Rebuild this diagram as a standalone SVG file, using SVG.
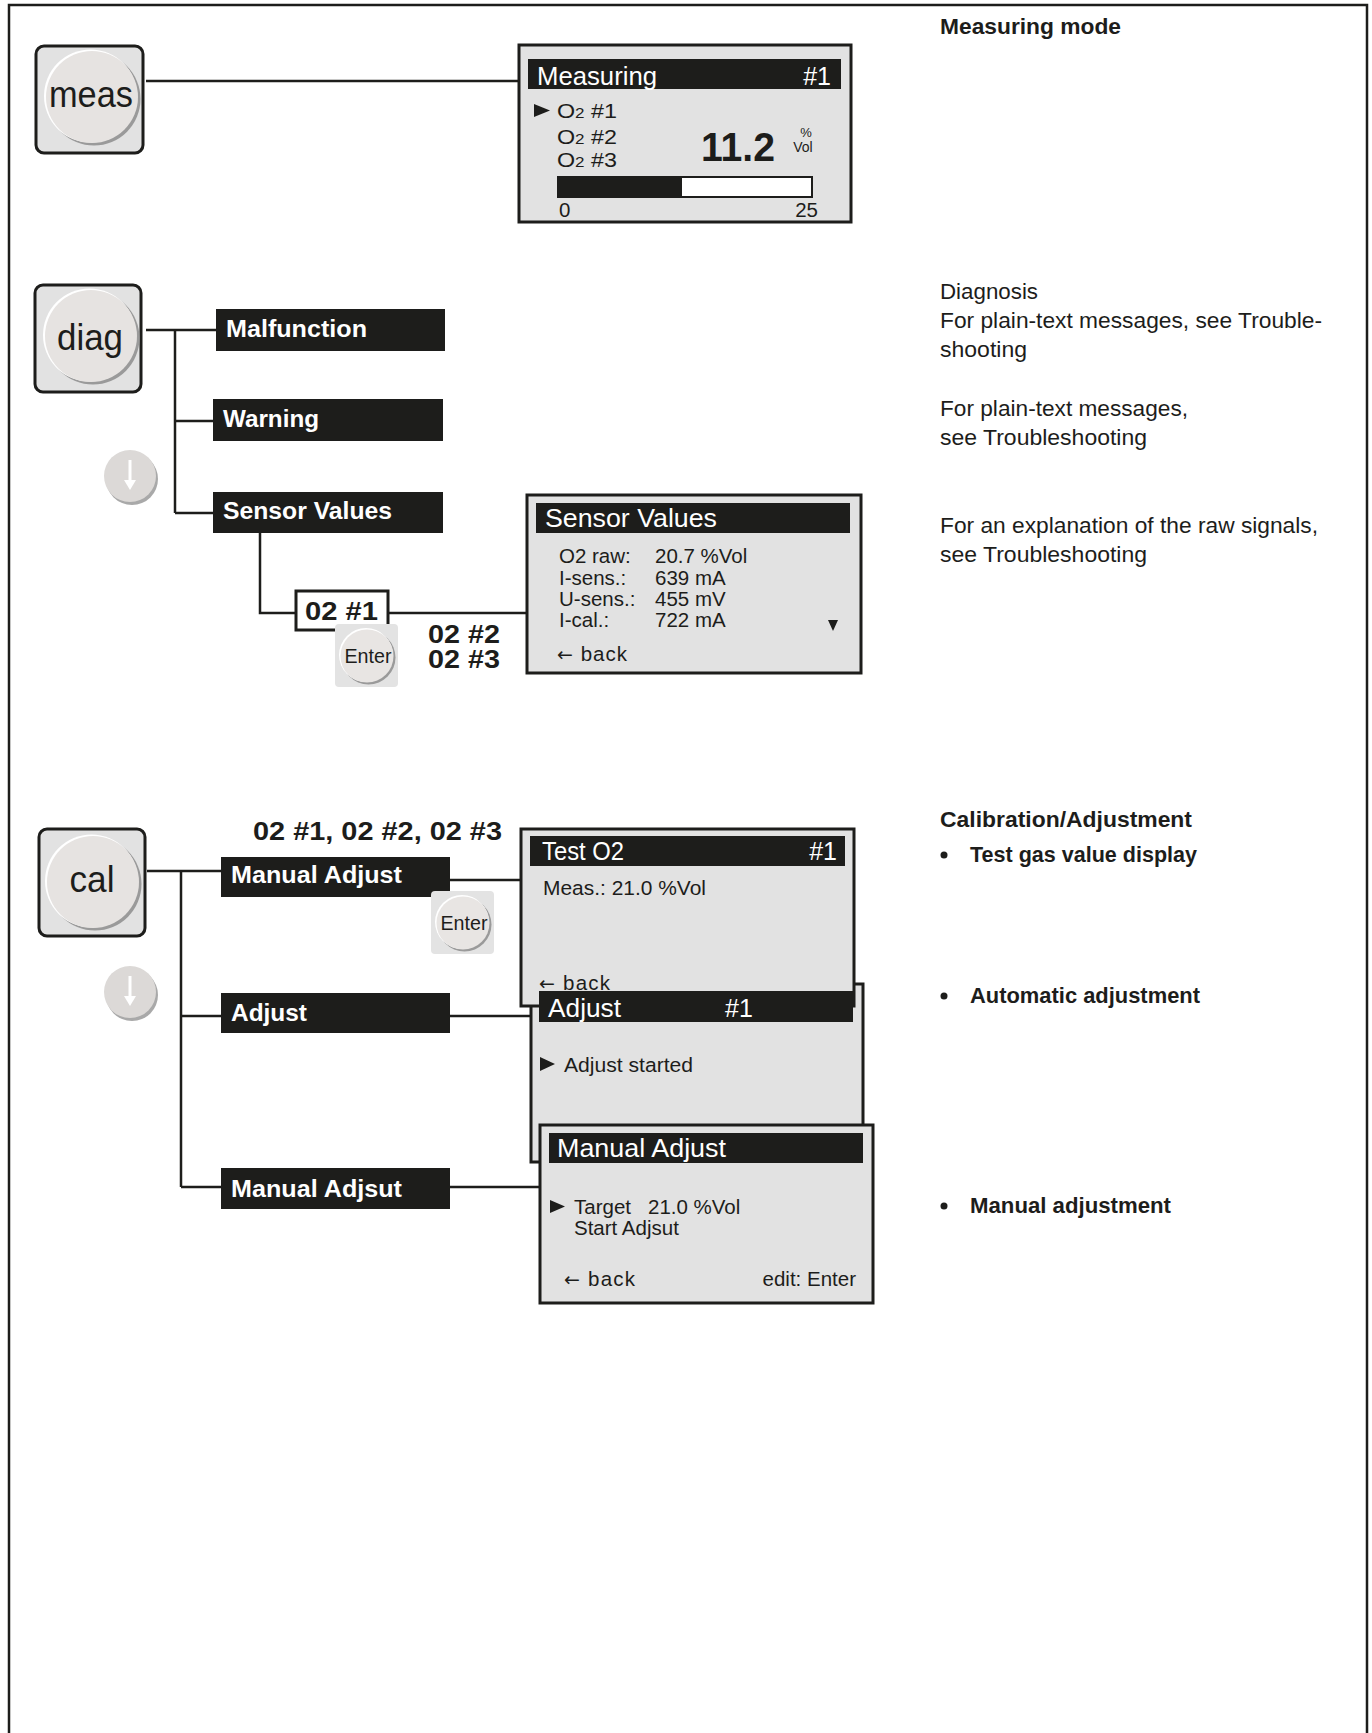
<svg xmlns="http://www.w3.org/2000/svg" xmlns:xlink="http://www.w3.org/1999/xlink" width="1372" height="1733" viewBox="0 0 1372 1733">
<style>
.frame{fill:none;stroke:#1d1d1b;stroke-width:2.5}
.conn{fill:none;stroke:#1d1d1b;stroke-width:2.5}
.keybg{fill:#e2e2e2;stroke:#1d1d1b;stroke-width:3}
.screen{fill:#e2e2e2;stroke:#1d1d1b;stroke-width:3}
.hdr{fill:#1d1d1b}
.menu{fill:#1d1d1b}
.sans{font-family:"Liberation Sans",Arial,sans-serif}
.hdrt{font-family:"Liberation Sans",Arial,sans-serif;font-size:25px;fill:#ffffff}
.scr{font-family:"Liberation Sans",Arial,sans-serif;font-size:20.5px;fill:#1d1d1b}
.arr{font-family:"DejaVu Sans",sans-serif;font-size:19px}
.menut{font-family:"Liberation Sans",Arial,sans-serif;font-size:24px;font-weight:bold;fill:#ffffff}
.bold{font-family:"Liberation Sans",Arial,sans-serif;font-weight:bold;fill:#1d1d1b}
.note{font-family:"Liberation Sans",Arial,sans-serif;font-size:22px;fill:#1d1d1b}
.noteb{font-family:"Liberation Sans",Arial,sans-serif;font-size:22px;font-weight:bold;fill:#1d1d1b}
.keyt{font-family:"Liberation Sans",Arial,sans-serif;font-size:37px;fill:#1d1d1b}
.entt{font-family:"Liberation Sans",Arial,sans-serif;font-size:20px;fill:#1d1d1b}
</style>
<defs>
<g id="bigknob">
<circle cx="2" cy="2" r="46.5" fill="#9a9a9a"/>
<circle cx="-1.5" cy="-1" r="46.5" fill="#ffffff"/>
<circle r="46" fill="#e6e3e1"/>
</g>
<g id="downknob">
<circle cx="2" cy="3" r="26" fill="#a9a9a9"/>
<circle r="26" fill="#dcd9d7"/>
<line x1="0" y1="-16" x2="0" y2="6" stroke="#ffffff" stroke-width="3"/>
<polygon points="-6,4 6,4 0,14" fill="#ffffff"/>
</g>
<g id="enterknob">
<rect x="-32" y="-32" width="63" height="63" rx="4" fill="#e3e3e3"/>
<circle cx="1.5" cy="1.5" r="27" fill="#9a9a9a"/>
<circle cx="-1" cy="-1" r="27" fill="#ffffff"/>
<circle r="26.5" fill="#e8e5e3"/>
</g>
</defs>

<rect x="0" y="0" width="1372" height="1733" fill="#ffffff"/>
<path class="frame" d="M 9 1733 V 5 H 1367 V 1733"/>

<g id="connectors">
<line class="conn" x1="146" y1="81" x2="518" y2="81"/>
<line class="conn" x1="146" y1="330" x2="216" y2="330"/>
<line class="conn" x1="175" y1="330" x2="175" y2="513"/>
<line class="conn" x1="175" y1="421" x2="213" y2="421"/>
<line class="conn" x1="175" y1="513" x2="213" y2="513"/>
<polyline class="conn" points="260,533 260,613 296,613"/>
<line class="conn" x1="388" y1="613" x2="527" y2="613"/>
<line class="conn" x1="147" y1="871" x2="221" y2="871"/>
<line class="conn" x1="181" y1="871" x2="181" y2="1187"/>
<line class="conn" x1="181" y1="1016" x2="221" y2="1016"/>
<line class="conn" x1="181" y1="1187" x2="221" y2="1187"/>
<line class="conn" x1="450" y1="880" x2="521" y2="880"/>
<line class="conn" x1="450" y1="1016" x2="530" y2="1016"/>
<line class="conn" x1="450" y1="1187" x2="540" y2="1187"/>
</g>

<g id="key-meas">
<rect class="keybg" x="36" y="46" width="107" height="107" rx="8"/>
<use xlink:href="#bigknob" x="92" y="97"/>
<text class="keyt" x="91" y="107" text-anchor="middle" textLength="84" lengthAdjust="spacingAndGlyphs">meas</text>
</g>

<g id="screen-measuring">
<rect class="screen" x="519" y="45" width="332" height="177"/>
<rect class="hdr" x="528" y="59" width="313" height="30"/>
<text class="hdrt" x="537" y="85" textLength="120" lengthAdjust="spacingAndGlyphs">Measuring</text>
<text class="hdrt" x="831" y="85" text-anchor="end">#1</text>
<polygon points="534,104 550,110.5 534,117" fill="#1d1d1b"/>
<text class="scr" x="557" y="118" font-size="23" textLength="60" lengthAdjust="spacingAndGlyphs">O<tspan font-size="15">2</tspan> #1</text>
<text class="scr" x="557" y="144" font-size="23" textLength="60" lengthAdjust="spacingAndGlyphs">O<tspan font-size="15">2</tspan> #2</text>
<text class="scr" x="557" y="167" font-size="23" textLength="60" lengthAdjust="spacingAndGlyphs">O<tspan font-size="15">2</tspan> #3</text>
<text class="bold" x="701" y="161" font-size="40" textLength="74" lengthAdjust="spacingAndGlyphs">11.2</text>
<text class="sans" x="806" y="137" font-size="13" text-anchor="middle" fill="#1d1d1b">%</text>
<text class="sans" x="803" y="152" font-size="14" text-anchor="middle" fill="#1d1d1b">Vol</text>
<rect x="558" y="177" width="254" height="20" fill="#ffffff" stroke="#1d1d1b" stroke-width="2"/>
<rect x="558" y="177" width="124" height="20" fill="#1d1d1b"/>
<text class="scr" x="559" y="217">0</text>
<text class="scr" x="818" y="217" text-anchor="end">25</text>
</g>

<g id="key-diag">
<rect class="keybg" x="35" y="285" width="106" height="107" rx="8"/>
<use xlink:href="#bigknob" x="91" y="336"/>
<text class="keyt" x="90" y="350" text-anchor="middle" textLength="66" lengthAdjust="spacingAndGlyphs">diag</text>
</g>

<g id="menu-malfunction">
<rect class="menu" x="216" y="309" width="229" height="42"/>
<text class="menut" x="226" y="337" textLength="141" lengthAdjust="spacingAndGlyphs">Malfunction</text>
</g>
<g id="menu-warning">
<rect class="menu" x="213" y="399" width="230" height="42"/>
<text class="menut" x="223" y="427" textLength="96" lengthAdjust="spacingAndGlyphs">Warning</text>
</g>
<g id="key-down-1">
<use xlink:href="#downknob" x="130" y="476"/>
</g>
<g id="menu-sensor-values">
<rect class="menu" x="213" y="492" width="230" height="41"/>
<text class="menut" x="223" y="519" textLength="169" lengthAdjust="spacingAndGlyphs">Sensor Values</text>
</g>

<g id="sel-o2-1">
<rect x="296" y="591" width="92" height="39" fill="#ffffff" stroke="#1d1d1b" stroke-width="3"/>
<text class="bold" x="305" y="620" font-size="25" textLength="73" lengthAdjust="spacingAndGlyphs">02 #1</text>
</g>
<g id="key-enter-1">
<use xlink:href="#enterknob" x="367" y="656"/>
<text class="entt" x="368" y="663" text-anchor="middle" textLength="47" lengthAdjust="spacingAndGlyphs">Enter</text>
</g>
<g id="sel-o2-23">
<text class="bold" x="428" y="643" font-size="25" textLength="72" lengthAdjust="spacingAndGlyphs">02 #2</text>
<text class="bold" x="428" y="668" font-size="25" textLength="72" lengthAdjust="spacingAndGlyphs">02 #3</text>
</g>

<g id="screen-sensor-values">
<rect class="screen" x="527" y="495" width="334" height="178"/>
<rect class="hdr" x="536" y="503" width="314" height="30"/>
<text class="hdrt" x="545" y="527" font-size="26" textLength="172" lengthAdjust="spacingAndGlyphs">Sensor Values</text>
<text class="scr" x="559" y="563">O2 raw:</text>
<text class="scr" x="655" y="563">20.7 %Vol</text>
<text class="scr" x="559" y="585">I-sens.:</text>
<text class="scr" x="655" y="585">639 mA</text>
<text class="scr" x="559" y="606">U-sens.:</text>
<text class="scr" x="655" y="606">455 mV</text>
<text class="scr" x="559" y="627">I-cal.:</text>
<text class="scr" x="655" y="627">722 mA</text>
<polygon points="828,620 838,620 833,631" fill="#1d1d1b"/>
<text class="scr" x="557" y="661" textLength="70" lengthAdjust="spacing"><tspan class="arr">←</tspan> back</text>
</g>

<g id="key-cal">
<rect class="keybg" x="39" y="829" width="106" height="107" rx="8"/>
<use xlink:href="#bigknob" x="93" y="882"/>
<text class="keyt" x="92" y="892" text-anchor="middle" textLength="45" lengthAdjust="spacingAndGlyphs">cal</text>
</g>

<g id="label-o2-all">
<text class="bold" x="253" y="840" font-size="25" textLength="249" lengthAdjust="spacingAndGlyphs">02 #1, 02 #2, 02 #3</text>
</g>

<g id="menu-manual-adjust">
<rect class="menu" x="221" y="857" width="229" height="40"/>
<text class="menut" x="231" y="883" textLength="171" lengthAdjust="spacingAndGlyphs">Manual Adjust</text>
</g>
<g id="key-enter-2">
<use xlink:href="#enterknob" x="463" y="923"/>
<text class="entt" x="464" y="930" text-anchor="middle" textLength="47" lengthAdjust="spacingAndGlyphs">Enter</text>
</g>
<g id="key-down-2">
<use xlink:href="#downknob" x="130" y="992"/>
</g>
<g id="menu-adjust">
<rect class="menu" x="221" y="993" width="229" height="40"/>
<text class="menut" x="231" y="1021" textLength="76" lengthAdjust="spacingAndGlyphs">Adjust</text>
</g>
<g id="menu-manual-adjsut">
<rect class="menu" x="221" y="1168" width="229" height="41"/>
<text class="menut" x="231" y="1197" textLength="171" lengthAdjust="spacingAndGlyphs">Manual Adjsut</text>
</g>

<g id="screen-adjust-frame">
<rect class="screen" x="531" y="984" width="332" height="178"/>
</g>
<g id="screen-test-o2">
<rect class="screen" x="521" y="829" width="333" height="177"/>
<rect class="hdr" x="530" y="836" width="315" height="30"/>
<text class="hdrt" x="542" y="860" textLength="82" lengthAdjust="spacingAndGlyphs">Test O2</text>
<text class="hdrt" x="837" y="860" text-anchor="end">#1</text>
<text class="scr" x="543" y="895" font-size="21" textLength="163" lengthAdjust="spacingAndGlyphs">Meas.: 21.0 %Vol</text>
<text class="scr" x="539" y="990" font-size="21" textLength="71" lengthAdjust="spacing"><tspan class="arr">←</tspan> back</text>
</g>
<g id="screen-adjust">
<rect class="hdr" x="539" y="991" width="314" height="31"/>
<text class="hdrt" x="548" y="1017" textLength="73" lengthAdjust="spacingAndGlyphs">Adjust</text>
<text class="hdrt" x="725" y="1017">#1</text>
<polygon points="540,1057 555,1064 540,1071" fill="#1d1d1b"/>
<text class="scr" x="564" y="1072" font-size="21" textLength="129" lengthAdjust="spacingAndGlyphs">Adjust started</text>
</g>

<g id="screen-manual-adjust">
<rect class="screen" x="540" y="1125" width="333" height="178"/>
<rect class="hdr" x="549" y="1133" width="314" height="30"/>
<text class="hdrt" x="557" y="1157" font-size="26" textLength="169" lengthAdjust="spacingAndGlyphs">Manual Adjust</text>
<polygon points="550,1200 565,1206.5 550,1213" fill="#1d1d1b"/>
<text class="scr" x="574" y="1214" font-size="21">Target</text>
<text class="scr" x="648" y="1214" font-size="21">21.0 %Vol</text>
<text class="scr" x="574" y="1235" font-size="21">Start Adjsut</text>
<text class="scr" x="564" y="1286" font-size="21" textLength="71" lengthAdjust="spacing"><tspan class="arr">←</tspan> back</text>
<text class="scr" x="856" y="1286" font-size="21" text-anchor="end">edit: Enter</text>
</g>

<g id="notes">
<text class="noteb" x="940" y="34" textLength="181" lengthAdjust="spacingAndGlyphs">Measuring mode</text>
<text class="note" x="940" y="299" textLength="98" lengthAdjust="spacingAndGlyphs">Diagnosis</text>
<text class="note" x="940" y="328" textLength="382" lengthAdjust="spacingAndGlyphs">For plain-text messages, see Trouble-</text>
<text class="note" x="940" y="357" textLength="87" lengthAdjust="spacingAndGlyphs">shooting</text>
<text class="note" x="940" y="416" textLength="248" lengthAdjust="spacingAndGlyphs">For plain-text messages,</text>
<text class="note" x="940" y="445" textLength="207" lengthAdjust="spacingAndGlyphs">see Troubleshooting</text>
<text class="note" x="940" y="533" textLength="378" lengthAdjust="spacingAndGlyphs">For an explanation of the raw signals,</text>
<text class="note" x="940" y="562" textLength="207" lengthAdjust="spacingAndGlyphs">see Troubleshooting</text>
<text class="noteb" x="940" y="827" textLength="252" lengthAdjust="spacingAndGlyphs">Calibration/Adjustment</text>
<circle cx="944" cy="855" r="3.5" fill="#1d1d1b"/>
<text class="noteb" x="970" y="862" textLength="227" lengthAdjust="spacingAndGlyphs">Test gas value display</text>
<circle cx="944" cy="996" r="3.5" fill="#1d1d1b"/>
<text class="noteb" x="970" y="1003" textLength="230" lengthAdjust="spacingAndGlyphs">Automatic adjustment</text>
<circle cx="944" cy="1206" r="3.5" fill="#1d1d1b"/>
<text class="noteb" x="970" y="1213" textLength="201" lengthAdjust="spacingAndGlyphs">Manual adjustment</text>
</g>
</svg>
